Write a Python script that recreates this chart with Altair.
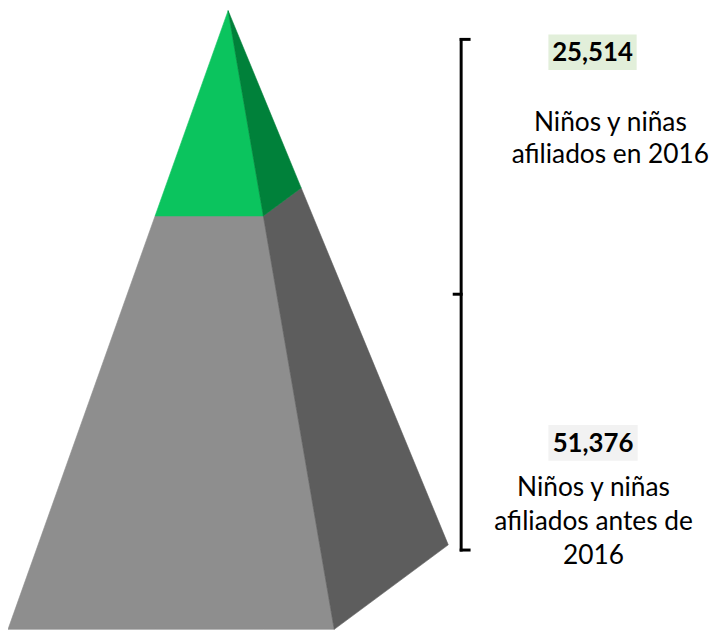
import altair as alt
import pandas as pd

# ---- data ----
segments = ["Niños y niñas afiliados en 2016", "Niños y niñas afiliados antes de 2016"]
values = [25514, 51376]            # top (green), bottom (gray)
number_labels = ["25,514", "51,376"]
top_lines = ["Niños y niñas", "afiliados en 2016"]
bottom_lines = ["Niños y niñas", "afiliados antes de", "2016"]
front_colors = ["#0BC45E", "#8E8E8E"]
side_colors = ["#00813A", "#5D5D5D"]

TOTAL = sum(values)

# ---- pyramid layout (x in plot pixels, y in data units) ----
W, H = 712, 624
FL_X, BASE_W, DEPTH_DX = 0, 329, 115
DEPTH_FRAC = 0.1366
D = DEPTH_FRAC * TOTAL

FL = (FL_X, 0.0)
FR = (FL_X + BASE_W, 0.0)
BR = (FL_X + BASE_W + DEPTH_DX, D)
APEX = (FL_X + BASE_W / 2 + DEPTH_DX / 2, float(TOTAL))


def on_edge(c, f):
    return (c[0] + f * (APEX[0] - c[0]), c[1] + f * (APEX[1] - c[1]))


f_split = values[1] / TOTAL
FLs, FRs, BRs = on_edge(FL, f_split), on_edge(FR, f_split), on_edge(BR, f_split)

faces = [
    ("bottom_front", front_colors[1], [FL, FR, FRs, FLs]),
    ("bottom_side", side_colors[1], [FR, BR, BRs, FRs]),
    ("top_front", front_colors[0], [FLs, FRs, APEX]),
    ("top_side", side_colors[0], [FRs, BRs, APEX]),
]


def polygon_rows(verts, face, color, order):
    xs = sorted(set(v[0] for v in verts))
    rows = []
    n = len(verts)
    for x in xs:
        ys = []
        for i in range(n):
            (x1, y1), (x2, y2) = verts[i], verts[(i + 1) % n]
            if min(x1, x2) - 1e-9 <= x <= max(x1, x2) + 1e-9:
                if abs(x2 - x1) < 1e-9:
                    ys += [y1, y2]
                else:
                    t = (x - x1) / (x2 - x1)
                    ys.append(y1 + t * (y2 - y1))
        rows.append(dict(face=face, color=color, x=x, lo=min(ys), hi=max(ys), o=order))
    return rows


rows = []
for k, (name, col, verts) in enumerate(faces):
    rows += polygon_rows(verts, name, col, k)
df = pd.DataFrame(rows)

xscale = alt.Scale(domain=[0, W], range=[0, W], nice=False, zero=False)
yscale = alt.Scale(domain=[0, TOTAL], nice=False, zero=False)

layers = []
for name, col, verts in faces:
    sub = df[df.face == name]
    layers.append(
        alt.Chart(sub).mark_area(strokeWidth=0.6, interpolate="linear").encode(
            x=alt.X("x:Q", scale=xscale, axis=None),
            y=alt.Y("hi:Q", scale=yscale, axis=None, stack=None),
            y2="lo:Q",
            fill=alt.Fill("color:N", scale=None),
            stroke=alt.Stroke("color:N", scale=None),
        )
    )

# ---- bracket ----
BX, BT, BB, BM = 457, 29, 544, 286
rule_style = dict(color="#000000", strokeWidth=3, strokeCap="square")
base = alt.Chart(pd.DataFrame({"k": [0]}))
layers.append(base.mark_rule(**rule_style).encode(x=alt.value(BX), y=alt.value(BT), y2=alt.value(BB)))
layers.append(base.mark_rule(**rule_style).encode(x=alt.value(BX), x2=alt.value(BX + 8), y=alt.value(BT)))
layers.append(base.mark_rule(**rule_style).encode(x=alt.value(BX), x2=alt.value(BX + 8), y=alt.value(BB)))
layers.append(base.mark_rule(**rule_style).encode(x=alt.value(BX - 7), x2=alt.value(BX), y=alt.value(BM)))

# ---- number boxes ----
layers.append(base.mark_rect(color="#E2EFDA").encode(
    x=alt.value(545), x2=alt.value(634), y=alt.value(24), y2=alt.value(60)))
layers.append(base.mark_rect(color="#F2F2F2").encode(
    x=alt.value(545), x2=alt.value(635), y=alt.value(418), y2=alt.value(454)))

FONT = "Lato"
num_style = dict(font=FONT, fontSize=26, fontWeight="bold", color="#000000",
                 align="center", baseline="middle")
txt_style = dict(font=FONT, fontSize=26.5, color="#000000", align="center", baseline="middle")

layers.append(base.mark_text(**num_style).encode(
    x=alt.value(589.5), y=alt.value(43), text=alt.value(number_labels[0])))
layers.append(base.mark_text(**num_style).encode(
    x=alt.value(590), y=alt.value(437), text=alt.value(number_labels[1])))

for i, line in enumerate(top_lines):
    layers.append(base.mark_text(**txt_style).encode(
        x=alt.value(607.5), y=alt.value(113 + 33 * i), text=alt.value(line)))
for i, line in enumerate(bottom_lines):
    layers.append(base.mark_text(**txt_style).encode(
        x=alt.value(590.5), y=alt.value(481 + 34.5 * i), text=alt.value(line)))

chart = alt.layer(*layers).properties(
    width=W, height=H, padding=0, autosize=alt.AutoSizeParams(type="none"),
    background="#FFFFFF",
).configure_view(stroke=None)

chart.save("out.html", embed_options={"renderer": "svg", "actions": False})
